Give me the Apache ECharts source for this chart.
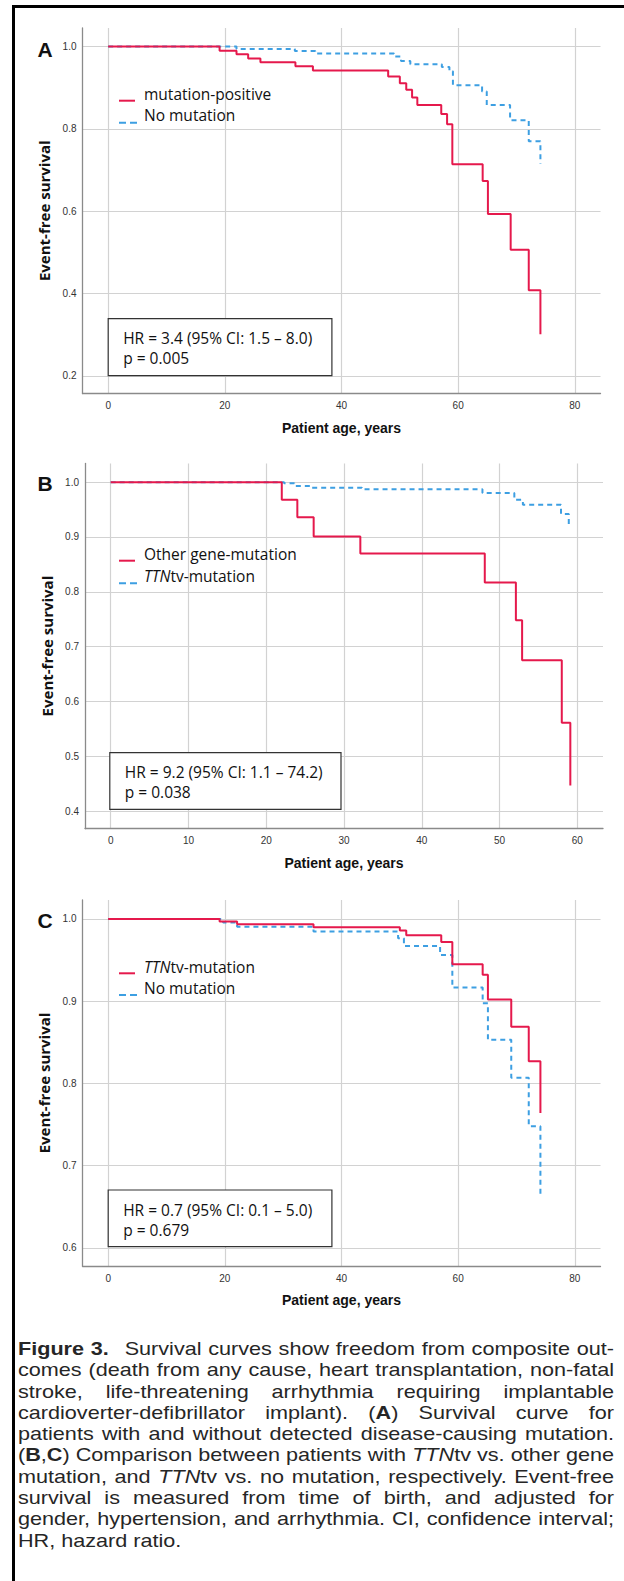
<!DOCTYPE html>
<html>
<head>
<meta charset="utf-8">
<title>Figure 3</title>
<script src="https://cdn.jsdelivr.net/npm/echarts@6.0.0/dist/echarts.min.js"></script>
<style>
    html, body { margin: 0; padding: 0; background: #fff; }
    #main { position: absolute; left: 0; top: 0; width: 624px; height: 1581px; }
    #frame { position: absolute; left: 12px; top: 5px; right: 0; bottom: 0;
             border-left: 3px solid #000; border-top: 3px solid #000; pointer-events: none; }
    #caption { position: absolute; left: 18px; top: 1338px; color: #262626;
               font-family: 'Liberation Sans', Arial, sans-serif; font-size: 19px; line-height: 21.3px;
               transform-origin: 0 0; }
    #caption .ln { white-space: nowrap; text-align: justify; text-align-last: justify; }
    #caption .ln.last { text-align-last: left; }
    #caption .fig { margin-right: 14px; }
</style>
</head>
<body>
<div id="main"></div>
<div id="frame"></div>
<div id="caption">
    <div class="ln"><b class="fig">Figure 3.</b>Survival curves show freedom from composite out-</div>
    <div class="ln">comes (death from any cause, heart transplantation, non-fatal</div>
    <div class="ln">stroke, life-threatening arrhythmia requiring implantable</div>
    <div class="ln">cardioverter-defibrillator implant). (<b>A</b>) Survival curve for</div>
    <div class="ln">patients with and without detected disease-causing mutation.</div>
    <div class="ln">(<b>B</b>,<b>C</b>) Comparison between patients with <i>TTN</i>tv vs. other gene</div>
    <div class="ln">mutation, and <i>TTN</i>tv vs. no mutation, respectively. Event-free</div>
    <div class="ln">survival is measured from time of birth, and adjusted for</div>
    <div class="ln">gender, hypertension, and arrhythmia. CI, confidence interval;</div>
    <div class="ln last">HR, hazard ratio.</div>
</div>
<script type="text/javascript">
    // panel A: mutation-positive vs no mutation
    var ageA_pos = [0, 19.1, 22, 24, 26.1, 32.1, 35.1, 48, 50, 51.1, 52.1, 53, 57.1, 58.1, 59, 64.2, 65.1, 69, 72.1, 74.1];
    var survA_pos = [1, 0.990, 0.981, 0.971, 0.962, 0.952, 0.942, 0.927, 0.911, 0.895, 0.876, 0.858, 0.836, 0.811, 0.714, 0.673, 0.593, 0.506, 0.408, 0.301];
    var ageA_none = [0, 22, 32, 35.5, 49, 50.2, 51.8, 57.2, 58.5, 59.1, 64.1, 64.9, 68.9, 72.1, 74.1];
    var survA_none = [1, 0.994, 0.989, 0.983, 0.976, 0.965, 0.957, 0.950, 0.940, 0.906, 0.891, 0.858, 0.821, 0.770, 0.715];

    // panel B: other gene-mutation vs TTNtv-mutation
    var ageB_other = [0, 22, 24, 26.1, 32.1, 48.1, 52.1, 52.9, 58, 59.1];
    var survB_other = [1, 0.968, 0.936, 0.901, 0.870, 0.817, 0.748, 0.675, 0.561, 0.447];
    var ageB_ttn = [0, 22.3, 23.6, 25.7, 32.3, 47.8, 51.9, 53, 57.9, 58.9];
    var survB_ttn = [1, 0.998, 0.993, 0.990, 0.987, 0.980, 0.968, 0.959, 0.942, 0.918];

    // panel C: TTNtv-mutation vs no mutation
    var ageC_ttn = [0, 19.1, 22.1, 35.2, 50, 51.1, 57.1, 59, 64.2, 65.1, 69.1, 72.1, 74.1];
    var survC_ttn = [1, 0.997, 0.9935, 0.990, 0.986, 0.980, 0.972, 0.945, 0.932, 0.902, 0.869, 0.827, 0.764];
    var ageC_none = [0, 19.7, 22.1, 35.2, 49.7, 50.7, 56.9, 59, 64.2, 65.1, 69.1, 72.1, 74.1];
    var survC_none = [1, 0.9955, 0.9906, 0.9846, 0.9765, 0.967, 0.956, 0.9165, 0.8975, 0.853, 0.807, 0.748, 0.661];

    // tick labels
    var ageTicks80 = [0, 20, 40, 60, 80];
    var ageTicks60 = [0, 10, 20, 30, 40, 50, 60];
    var survTicksA = [0.2, 0.4, 0.6, 0.8, 1.0];
    var survTicksB = [0.4, 0.5, 0.6, 0.7, 0.8, 0.9, 1.0];
    var survTicksC = [0.6, 0.7, 0.8, 0.9, 1.0];

    // texts
    var panelLetters = ['A', 'B', 'C'];
    var legendA = ['mutation-positive', 'No mutation'];
    var legendB = ['Other gene-mutation', '{i|TTN}tv-mutation'];
    var legendC = ['{i|TTN}tv-mutation', 'No mutation'];
    var hrText = [
        ['HR = 3.4 (95% CI: 1.5 \u2013 8.0)', 'p = 0.005'],
        ['HR = 9.2 (95% CI: 1.1 \u2013 74.2)', 'p = 0.038'],
        ['HR = 0.7 (95% CI: 0.1 \u2013 5.0)', 'p = 0.679']
    ];

    var RED = '#e5194c';
    var BLUE = '#3d9fe2';
    var GRID_LINE = '#d2d2d2';
    var AXIS_LINE = '#8a8a8a';

    function zip(xs, ys) {
        var out = [];
        for (var i = 0; i < xs.length; i++) out.push([xs[i], ys[i]]);
        return out;
    }

    function xAxis(gi, min, max, ticks) {
        return {
            type: 'value', gridIndex: gi, min: min, max: max,
            name: 'Patient age, years', nameLocation: 'middle', nameGap: 27,
            nameTextStyle: { fontFamily: 'Liberation Sans', fontWeight: 'bold', fontSize: 14, color: '#111' },
            axisLine: { show: true, onZero: false, lineStyle: { color: AXIS_LINE, width: 1.3 } },
            axisTick: { show: false, customValues: ticks },
            axisLabel: { customValues: ticks, fontFamily: 'Liberation Sans', fontSize: 10, color: '#333', margin: 7 },
            splitLine: { show: true, lineStyle: { color: GRID_LINE, width: 1.2 } }
        };
    }

    function yAxis(gi, min, max, ticks) {
        return {
            type: 'value', gridIndex: gi, min: min, max: max,
            name: 'Event-free survival', nameLocation: 'middle', nameGap: 30, nameRotate: 90,
            nameTextStyle: { fontFamily: 'Open Sans', fontWeight: 'bold', fontSize: 15, color: '#111' },
            axisLine: { show: true, onZero: false, lineStyle: { color: AXIS_LINE, width: 1.3 } },
            axisTick: { show: false, customValues: ticks },
            axisLabel: {
                customValues: ticks, fontFamily: 'Liberation Sans', fontSize: 10, color: '#333', margin: 6,
                formatter: function (v) { return v.toFixed(1); }
            },
            splitLine: { show: true, lineStyle: { color: GRID_LINE, width: 1.2 } }
        };
    }

    function curve(name, gi, data, color, dashed, z) {
        return {
            name: name, type: 'line', step: 'end', xAxisIndex: gi, yAxisIndex: gi,
            data: data, symbol: 'none', silent: true, z: z,
            lineStyle: { color: color, width: 2, type: dashed ? [5, 4] : 'solid' }
        };
    }

    var textFont = { fontFamily: 'Open Sans', fontSize: 15.5, fill: '#111' };
    var richItalic = { i: { fontStyle: 'italic', fontFamily: 'Open Sans', fontSize: 15.5, fill: '#111' } };

    function label(x, y, text) {
        return {
            type: 'text', z: 100,
            style: { x: x, y: y, text: text, fontFamily: textFont.fontFamily, fontSize: textFont.fontSize,
                     fill: textFont.fill, verticalAlign: 'middle', align: 'left', rich: richItalic }
        };
    }

    // legend drawn inside each panel: solid red, dashed blue
    function legend(yRed, yBlue, names) {
        return [
            { type: 'line', z: 100, shape: { x1: 119, y1: yRed, x2: 135, y2: yRed }, style: { stroke: RED, lineWidth: 2 } },
            { type: 'line', z: 100, shape: { x1: 119, y1: yBlue, x2: 138, y2: yBlue }, style: { stroke: BLUE, lineWidth: 2, lineDash: [7, 4] } },
            label(144, yRed - 6.5, names[0]),
            label(144, yBlue - 7.5, names[1])
        ];
    }

    function hrBox(x, y, w, h, lines) {
        return [
            { type: 'rect', z: 99, shape: { x: x, y: y, width: w, height: h }, style: { fill: '#fff', stroke: '#333', lineWidth: 1.2 } },
            label(x + 15, y + 19.5, lines[0]),
            label(x + 15, y + 39.5, lines[1])
        ];
    }

    function letter(y, t) {
        return {
            type: 'text', z: 100,
            style: { x: 45, y: y, text: t, fontFamily: 'Liberation Sans', fontWeight: 'bold', fontSize: 21,
                     fill: '#111', align: 'center', verticalAlign: 'middle' }
        };
    }

    var graphics = [].concat(
        [letter(49, panelLetters[0]), letter(483, panelLetters[1]), letter(920, panelLetters[2])],
        legend(100.7, 122.7, legendA),
        legend(560.7, 583.3, legendB),
        legend(973.3, 995, legendC),
        hrBox(108.2, 318.7, 223.7, 57, hrText[0]),
        hrBox(109.8, 752.7, 231.2, 56.6, hrText[1]),
        hrBox(108.2, 1190, 223.7, 56.7, hrText[2])
    );

    var option = {
        backgroundColor: '#fff',
        animation: false,
        grid: [
            { left: 82.5, top: 28, width: 518, height: 365.5, containLabel: false, outerBoundsMode: 'none' },
            { left: 85, top: 463.5, width: 518, height: 365.2, containLabel: false, outerBoundsMode: 'none' },
            { left: 82.5, top: 900, width: 518, height: 366, containLabel: false, outerBoundsMode: 'none' }
        ],
        xAxis: [
            xAxis(0, -4.4, 84.4, ageTicks80),
            xAxis(1, -3.3, 63.3, ageTicks60),
            xAxis(2, -4.4, 84.4, ageTicks80)
        ],
        yAxis: [
            yAxis(0, 0.157, 1.045, survTicksA),
            yAxis(1, 0.368, 1.034, survTicksB),
            yAxis(2, 0.578, 1.023, survTicksC)
        ],
        series: [
            curve('No mutation', 0, zip(ageA_none, survA_none), BLUE, true, 2),
            curve('mutation-positive', 0, zip(ageA_pos, survA_pos), RED, false, 3),
            curve('TTNtv-mutation B', 1, zip(ageB_ttn, survB_ttn), BLUE, true, 2),
            curve('Other gene-mutation', 1, zip(ageB_other, survB_other), RED, false, 3),
            curve('No mutation C', 2, zip(ageC_none, survC_none), BLUE, true, 2),
            curve('TTNtv-mutation C', 2, zip(ageC_ttn, survC_ttn), RED, false, 3)
        ],
        graphic: graphics
    };

    var chart = echarts.init(document.getElementById('main'), null, { renderer: 'svg' });
    chart.setOption(option);

    // stretch the justified caption to the column width
    var cap = document.getElementById('caption');
    var natural = cap.offsetWidth;
    cap.style.width = natural + 'px';
    cap.style.transform = 'scaleX(' + (596 / natural) + ')';
</script>
</body>
</html>
